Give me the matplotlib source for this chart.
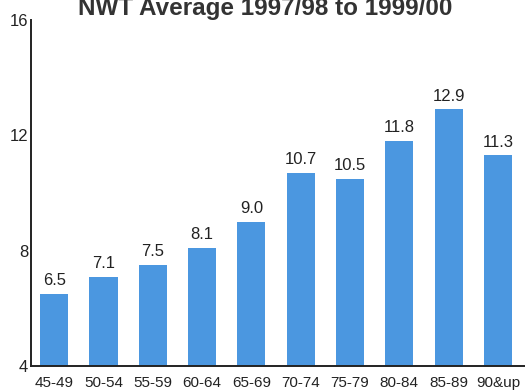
import numpy as np
import matplotlib
matplotlib.use('Agg')
import matplotlib.pyplot as plt

# %% Data:
age_groups = ['45-49', '50-54', '55-59', '60-64', '65-69', '70-74', '75-79', '80-84', '85-89', '90&up']
avg_values = [6.5, 7.1, 7.5, 8.1, 9.0, 10.7, 10.5, 11.8, 12.9, 11.3]
yticks = [4, 8, 12, 16]
title_str = 'NWT Average 1997/98 to 1999/00'

# %% Plot:
plt.rcParams['font.family'] = ['Liberation Sans', 'DejaVu Sans']
fig = plt.figure(figsize=(5.25, 3.91), dpi=100)
ax = fig.add_axes([0.059, 0.064, 0.941, 0.885])

x = np.arange(len(age_groups))
ax.bar(x, avg_values, width=0.57, bottom=0, color='#4b97e0', zorder=2)

for xi, v in zip(x, avg_values):
    ax.annotate('%.1f' % v, (xi, v), xytext=(0, 4), textcoords='offset points',
                ha='center', va='bottom', fontsize=12, color='#222222')

ax.set_ylim(4, 16)
ax.set_xlim(-0.47, 9.55)
ax.set_yticks(yticks)
ax.set_xticks(x)
ax.set_xticklabels(age_groups)
ax.tick_params(axis='y', length=0, pad=2, labelsize=12, labelcolor='#222222')
ax.tick_params(axis='x', length=0, pad=7, labelsize=11, labelcolor='#222222')

for s in ['top', 'right']:
    ax.spines[s].set_visible(False)
for s in ['left', 'bottom']:
    ax.spines[s].set_linewidth(1.4)
    ax.spines[s].set_color('#222222')

fig.text(0.505, 0.962, title_str, ha='center', va='baseline', fontsize=17.5,
         fontweight='bold', color='#333333')

fig.savefig('out.png', dpi=100)
